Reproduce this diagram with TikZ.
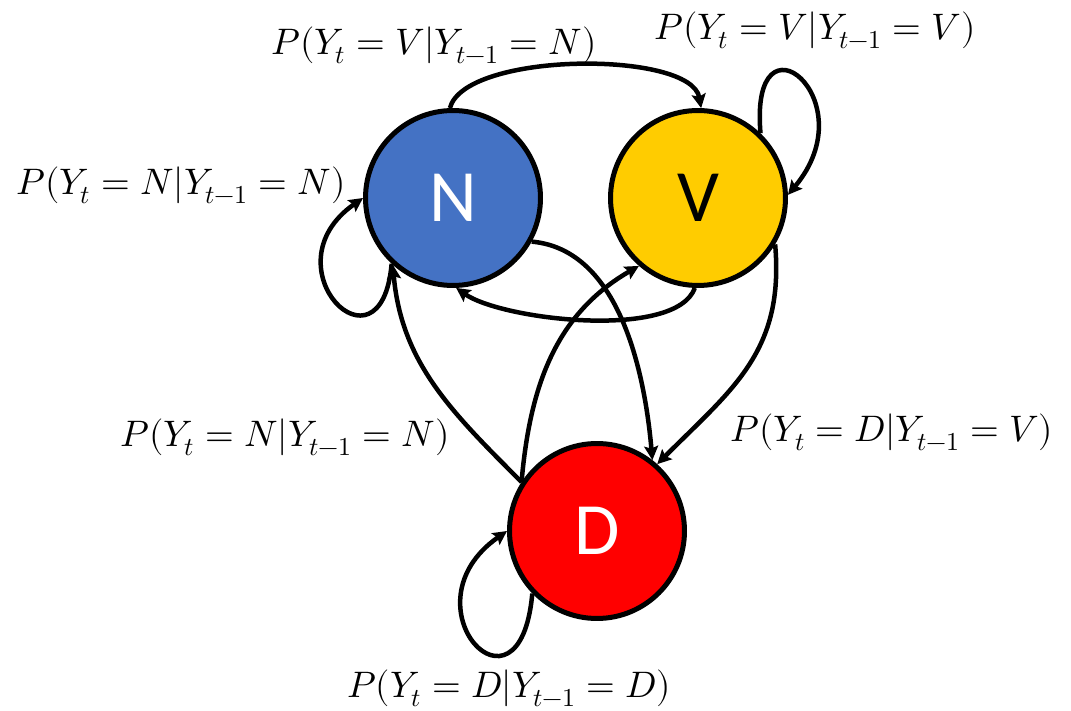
\documentclass[tikz,border=0pt]{standalone}
\usepackage{fontspec}
\usepackage{unicode-math}
\newfontfamily\statefont{Carlito}
\usetikzlibrary{arrows.meta}
\definecolor{cnoun}{HTML}{4472C4}
\definecolor{cverb}{HTML}{FFCC00}
\definecolor{cdet}{HTML}{FF0000}
\tikzset{
  state/.style={circle, draw=black, fill=#1, line width=0.1cm, minimum size=3.5cm, inner sep=0pt, font=\statefont\fontsize{42}{50}\selectfont},
  state/.default=white,
  trans/.style={-{Stealth[length=0.28cm, width=0.28cm, inset=0.05cm]}, draw=black, line width=0.09cm},
  prob/.style={font=\fontsize{21}{25}\selectfont, inner sep=1pt},
}
\begin{document}
\begin{tikzpicture}[x=0.02cm, y=0.02cm]
  \useasboundingbox (0,0) rectangle (1071,710);
  % the three tags
  \node[state=cnoun, text=white] (N) at (453,512) {N};
  \node[state=cverb, text=black] (V) at (698,512) {V};
  \node[state=cdet, text=white] (D) at (597,179) {D};
  % self loops
  \draw[trans] (N.227) .. controls +(265:120) and +(215:120) .. (N.180);
  \draw[trans] (V.46) .. controls +(95:130) and +(50:125) .. (V.2);
  \draw[trans] (D.224) .. controls +(265:140) and +(215:130) .. (D.180);
  % transitions between tags
  \draw[trans] (N.92) to[out=75, in=100, looseness=0.6] (V.88);
  \draw[trans] (V.268) to[out=250, in=-35, looseness=0.6] (N.272);
  \draw[trans] (N.-29) to[out=-5, in=95, looseness=0.9] (D.52);
  \draw[trans] (V.-31) to[out=-85, in=45, looseness=1.1] (D.48);
  \draw[trans] (D.147) to[out=85, in=210] (V.229);
  \draw[trans] (D.147) to[out=135, in=275] (N.228);
  % probability labels
  \node[prob] (pVN) at (434,665) {$P(Y_t=V|Y_{t-1}=N)$};
  \node[prob] (pVV) at (815,680) {$P(Y_t=V|Y_{t-1}=V)$};
  \node[prob] (pNN) at (181,525) {$P(Y_t=N|Y_{t-1}=N)$};
  \node[prob] (pND) at (285,273) {$P(Y_t=N|Y_{t-1}=N)$};
  \node[prob] (pDV) at (892,278) {$P(Y_t=D|Y_{t-1}=V)$};
  \node[prob] (pDD) at (509,22) {$P(Y_t=D|Y_{t-1}=D)$};
\end{tikzpicture}
\end{document}
